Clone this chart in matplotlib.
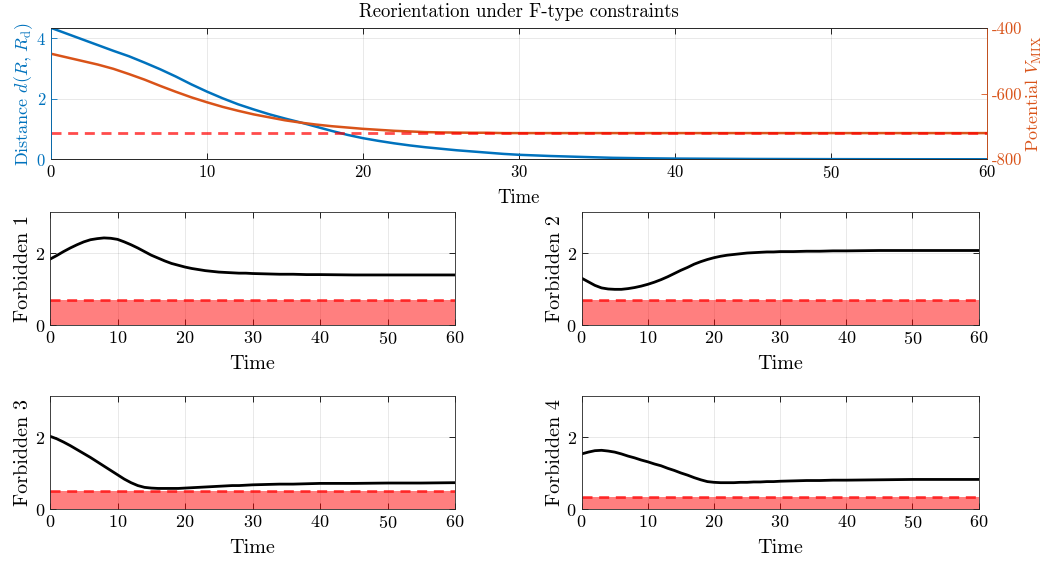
import numpy as np
import matplotlib
matplotlib.use("Agg")
import matplotlib.pyplot as plt

plt.rcParams["font.family"] = "serif"
plt.rcParams["font.serif"] = ["cmr10"]
plt.rcParams["mathtext.fontset"] = "cm"
plt.rcParams["axes.formatter.use_mathtext"] = True
plt.rcParams["axes.unicode_minus"] = False

# time samples
t = list(range(0, 31)) + [32, 34, 36, 38, 40, 45, 50, 55, 60]

# top panel
distance = [4.35, 4.16, 3.97, 3.78, 3.59, 3.41, 3.20, 2.98, 2.74, 2.48,
            2.24, 2.02, 1.82, 1.65, 1.49, 1.35, 1.22, 1.08, 0.94, 0.81,
            0.70, 0.61, 0.53, 0.46, 0.40, 0.35, 0.30, 0.26, 0.22, 0.18,
            0.15, 0.11, 0.08, 0.05, 0.035, 0.025, 0.012, 0.006, 0.003, 0.002]
potential = [-478, -489, -500, -511, -524, -540, -557, -576, -594, -611,
             -626, -640, -652, -663, -672, -681, -688, -694, -699, -703,
             -707, -710, -713, -715, -717, -718, -718.5, -719, -719, -720,
             -720, -720, -720, -720, -720, -720, -720, -720, -720, -720]
potential_min = -720

# forbidden distances
forb1 = [1.84, 1.94, 2.05, 2.15, 2.24, 2.32, 2.38, 2.41, 2.43, 2.42,
         2.39, 2.32, 2.24, 2.15, 2.05, 1.95, 1.87, 1.79, 1.72, 1.67,
         1.62, 1.58, 1.55, 1.52, 1.50, 1.48, 1.47, 1.46, 1.45, 1.45,
         1.44, 1.43, 1.42, 1.42, 1.41, 1.41, 1.40, 1.40, 1.40, 1.40]
forb2 = [1.31, 1.21, 1.11, 1.04, 1.01, 1.00, 1.00, 1.02, 1.05, 1.09,
         1.14, 1.20, 1.27, 1.35, 1.44, 1.53, 1.61, 1.70, 1.77, 1.83,
         1.88, 1.92, 1.95, 1.97, 1.99, 2.01, 2.02, 2.03, 2.04, 2.04,
         2.05, 2.05, 2.06, 2.06, 2.07, 2.07, 2.08, 2.08, 2.08, 2.08]
forb3 = [2.03, 1.96, 1.87, 1.77, 1.66, 1.55, 1.44, 1.32, 1.20, 1.08,
         0.96, 0.84, 0.74, 0.66, 0.61, 0.59, 0.58, 0.58, 0.58, 0.58,
         0.59, 0.60, 0.61, 0.62, 0.63, 0.64, 0.65, 0.66, 0.66, 0.67,
         0.68, 0.69, 0.70, 0.70, 0.71, 0.72, 0.72, 0.73, 0.73, 0.74]
forb4 = [1.54, 1.59, 1.63, 1.64, 1.62, 1.59, 1.54, 1.48, 1.43, 1.37,
         1.32, 1.26, 1.21, 1.14, 1.08, 1.01, 0.95, 0.88, 0.82, 0.77,
         0.75, 0.74, 0.74, 0.74, 0.75, 0.75, 0.76, 0.76, 0.77, 0.77,
         0.78, 0.79, 0.80, 0.80, 0.81, 0.81, 0.82, 0.83, 0.83, 0.83]
forb_curves = [forb1, forb2, forb3, forb4]
forb_limits = [0.69, 0.69, 0.51, 0.33]
forb_names = ["Forbidden 1", "Forbidden 2", "Forbidden 3", "Forbidden 4"]

blue = "#0072BD"
orange = "#D95319"
edge = "#262626"
dash = (0, (3.6, 2.4))

fig = plt.figure(figsize=(10.53, 5.63), dpi=100)


def style(ax, size):
    ax.tick_params(direction="in", labelsize=size, length=4, width=0.6)
    ax.grid(True, color="#000000", alpha=0.1, linewidth=0.6)
    ax.set_axisbelow(True)
    for s in ax.spines.values():
        s.set_color(edge)
        s.set_linewidth(0.6)


# top panel: distance + potential
ax = fig.add_axes([0.0484, 0.717, 0.8889, 0.233])
style(ax, 12)
ax.tick_params(axis="x", top=True)
ax.plot(t, distance, color=blue, lw=1.8)
ax.set_xlim(0, 60)
ax.set_ylim(0, 4.34)
ax.set_xticks(range(0, 61, 10))
ax.set_yticks([0, 2, 4])
ax.set_xlabel("Time", fontsize=13.5, labelpad=6)
ax.set_ylabel(r"Distance $d(R,\,R_\mathrm{d})$", color=blue, fontsize=13, labelpad=1)
ax.tick_params(axis="y", colors=blue, labelcolor=blue)
ax.set_title("Reorientation under F-type constraints", fontsize=13.5, pad=8)

ax2 = ax.twinx()
ax2.plot(t, potential, color=orange, lw=1.8)
ax2.axhline(potential_min, color="red", lw=2, ls=dash, alpha=0.7)
ax2.set_ylim(-800, -400)
ax2.set_yticks([-800, -600, -400])
ax2.set_yticklabels(["-800", "-600", "-400"])
ax2.tick_params(direction="in", labelsize=12, length=4, width=0.6, colors=orange)
ax2.set_ylabel(r"Potential $V_\mathrm{MIX}$", color=orange, fontsize=13, labelpad=1)
for s in ax2.spines.values():
    s.set_linewidth(0.6)
    s.set_color(edge)
ax2.spines["right"].set_color(orange)
ax2.spines["left"].set_color(blue)

# four forbidden-distance panels
lefts = [0.0475, 0.5524, 0.0475, 0.5524]
bottoms = [0.4222, 0.4222, 0.0954, 0.0954]
w = [0.3846, 0.3770, 0.3846, 0.3770]
for i in range(4):
    a = fig.add_axes([lefts[i], bottoms[i], w[i], 0.2012])
    style(a, 13)
    a.tick_params(top=True, right=True)
    a.fill_between([0, 60], 0, forb_limits[i], color="red", alpha=0.5, lw=0)
    a.axhline(forb_limits[i], color="red", lw=2, ls=dash, alpha=0.7)
    a.plot(t, forb_curves[i], color="black", lw=2)
    a.set_xlim(0, 60)
    a.set_ylim(0, 3.15)
    a.set_xticks(range(0, 61, 10))
    a.set_yticks([0, 2])
    a.set_xlabel("Time", fontsize=14.5, labelpad=6)
    a.set_ylabel(forb_names[i], fontsize=14.5, labelpad=2)

fig.savefig("out.png", dpi=100)
